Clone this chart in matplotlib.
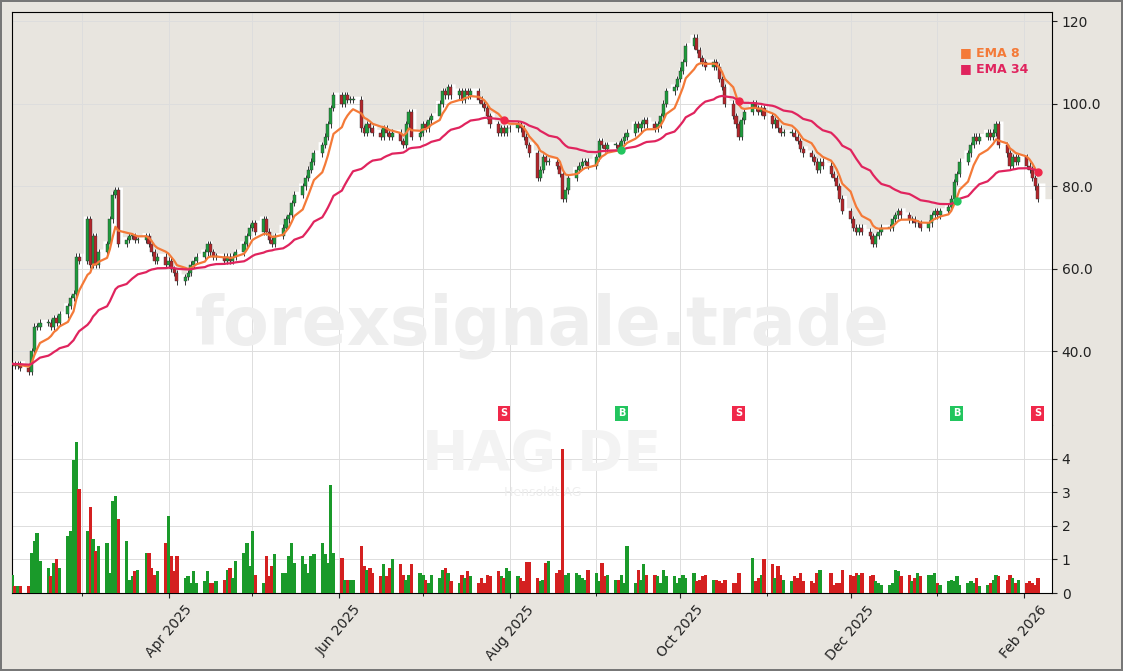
import numpy as np
import pandas as pd
import matplotlib
matplotlib.use("Agg")
import matplotlib.pyplot as plt
import matplotlib.dates as mdates

weekly_closes = [
    [37, 37, 36.5, 37, 36], [35, 40, 46, 46, 47], [47, 46, 48, 47, 49], [51, 53, 54, 63, 62],
    [72, 61, 68, 61, 64], [66, 72, 78, 79, 66], [67, 68, 68, 67, 67], [68, 66, 64, 62, 63],
    [61, 62, 60, 59, 57], [58, 59, 61, 62, 63], [64, 66, 64, 63, 63], [62, 63, 62, 63, 64],
    [66, 68, 70, 71, 69], [72, 69, 67, 66, 68], [70, 72, 73, 76, 78], [80, 82, 84, 86, 88],
    [90, 92, 95, 99, 102], [100, 102, 101, 101, 101], [94, 93, 95, 94, 93], [92, 94, 93, 92, 93],
    [91, 90, 95, 98, 92], [93, 95, 94, 96, 97], [100, 103, 102, 104, 102], [103, 101, 103, 102, 103],
    [101, 100, 99, 97, 95], [93, 94, 93, 94, 94], [95, 94, 92, 90, 88], [82, 84, 87, 86, 86],
    [85, 83, 77, 79, 82], [84, 85, 86, 86, 85], [87, 91, 90, 89, 90], [90, 89, 91, 92, 93],
    [95, 94, 95, 96, 95], [94, 95, 97, 100, 103], [104, 106, 108, 110, 114], [116, 113, 111, 110, 109],
    [110, 109, 106, 104, 100], [97, 95, 92, 96, 98], [100, 99, 98, 99, 97], [95, 96, 94, 93, 93],
    [93, 92, 91, 89, 88], [87, 86, 84, 86, 85], [83, 82, 80, 77, 74], [72, 70, 69, 70, 69],
    [68, 66, 68, 69, 70], [70, 72, 73, 74, 73], [72, 72, 71, 71, 70], [71, 73, 74, 73, 74],
    [75, 77, 81, 83, 86], [88, 90, 92, 91, 92], [93, 92, 93, 95, 90], [88, 85, 87, 86, 87],
    [85, 84, 82, 80, 77],
]
weekly_volumes = [
    [0.6, 0.55, 0.2, 0.2, 0.2], [0.2, 1.2, 1.55, 1.78, 0.95], [0.75, 0.5, 0.9, 1.0, 0.75],
    [1.7, 1.85, 3.95, 4.5, 3.1], [1.85, 2.55, 1.6, 1.25, 1.4], [1.5, 0.6, 2.75, 2.9, 2.2],
    [1.55, 0.4, 0.5, 0.65, 0.7], [1.2, 1.2, 0.75, 0.55, 0.65], [1.5, 2.3, 1.1, 0.65, 1.1],
    [0.45, 0.5, 0.3, 0.65, 0.3], [0.35, 0.65, 0.3, 0.3, 0.35], [0.4, 0.7, 0.75, 0.45, 0.95],
    [1.2, 1.5, 0.8, 1.85, 0.55], [0.3, 1.1, 0.5, 0.8, 1.15], [0.6, 0.6, 1.1, 1.5, 0.9],
    [1.1, 0.85, 0.6, 1.1, 1.15], [1.5, 1.15, 0.9, 3.2, 1.2], [1.05, 0.4, 0.4, 0.4, 0.4],
    [1.4, 0.8, 0.7, 0.75, 0.6], [0.5, 0.85, 0.5, 0.75, 1.0], [0.85, 0.55, 0.4, 0.55, 0.85],
    [0.6, 0.55, 0.4, 0.3, 0.55], [0.45, 0.7, 0.75, 0.6, 0.35], [0.3, 0.55, 0.45, 0.65, 0.5],
    [0.3, 0.45, 0.3, 0.55, 0.5], [0.65, 0.5, 0.45, 0.75, 0.65], [0.5, 0.45, 0.35, 0.92, 0.92],
    [0.45, 0.35, 0.4, 0.9, 0.95], [0.6, 0.7, 4.3, 0.55, 0.6], [0.6, 0.55, 0.45, 0.4, 0.7],
    [0.6, 0.35, 0.9, 0.5, 0.55], [0.4, 0.4, 0.55, 0.3, 1.4], [0.3, 0.7, 0.4, 0.85, 0.55],
    [0.55, 0.5, 0.3, 0.7, 0.5], [0.5, 0.3, 0.45, 0.55, 0.45], [0.6, 0.35, 0.4, 0.5, 0.55],
    [0.4, 0.4, 0.35, 0.3, 0.4], [0.3, 0.3, 0.6, 0.0, 0.0], [1.05, 0.35, 0.45, 0.55, 1.0],
    [0.85, 0.45, 0.8, 0.55, 0.4], [0.35, 0.5, 0.45, 0.6, 0.35], [0.35, 0.3, 0.6, 0.7, 0.0],
    [0.6, 0.25, 0.3, 0.3, 0.7], [0.55, 0.5, 0.6, 0.55, 0.6], [0.5, 0.55, 0.35, 0.3, 0.25],
    [0.25, 0.3, 0.7, 0.65, 0.5], [0.55, 0.35, 0.45, 0.6, 0.5], [0.55, 0.55, 0.6, 0.3, 0.25],
    [0.35, 0.4, 0.35, 0.5, 0.25], [0.3, 0.35, 0.3, 0.45, 0.2], [0.25, 0.3, 0.4, 0.55, 0.5],
    [0.4, 0.55, 0.45, 0.3, 0.4], [0.3, 0.35, 0.3, 0.25, 0.45],
]
price_ticks = [40, 60, 80, 100, 120]
price_tick_labels = ["40.0", "60.0", "80.0", "100.0", "120"]
vol_ticks = [0, 1, 2, 3, 4]

close = np.array([c for w in weekly_closes for c in w], dtype=float)
volume = np.array([v for w in weekly_volumes for v in w], dtype=float)
dates = pd.bdate_range("2025-02-03", periods=len(close))
x = mdates.date2num(dates.to_pydatetime())
opn = np.concatenate([[close[0]], close[:-1]])
high = np.maximum(opn, close) + 0.8
low = np.minimum(opn, close) - 0.8

ema8 = pd.Series(close).ewm(span=8, adjust=False).mean().values
ema34 = pd.Series(close).ewm(span=34, adjust=False).mean().values

BG = "#e8e5df"
UP = "#1e9b3c"
DN = "#b3262b"
C8 = "#f47a38"
C34 = "#e0245e"

fig = plt.figure(figsize=(11.23, 6.71), dpi=100, facecolor=BG)
fig.patch.set_edgecolor("#777777")
fig.patch.set_linewidth(1.5)
ax = fig.add_axes([0.0107, 0.3666, 0.926, 0.6155])
axv = fig.add_axes([0.0107, 0.1162, 0.926, 0.2504], sharex=ax)
for a in (ax, axv):
    a.set_facecolor("white")
    a.grid(True, color="#dddddd", lw=0.7)
    a.set_axisbelow(True)
    a.yaxis.tick_right()
    for s in a.spines.values():
        s.set_visible(False)
ax.spines["right"].set_visible(True)
axv.spines["right"].set_visible(True)
ax.spines["top"].set_visible(True)
ax.spines["left"].set_visible(True)
axv.spines["left"].set_visible(True)
axv.spines["bottom"].set_visible(True)

xmin = mdates.date2num(pd.Timestamp("2025-02-04"))
xmax = mdates.date2num(pd.Timestamp("2026-02-11"))
fx = np.concatenate([[xmin], x, [xmax]])
fh = np.concatenate([[high[0]], high, [close[-1]]])
ax.fill_between(fx, fh, 130, step="mid", color=BG, lw=0, zorder=0.5)

col = np.where(close >= opn, UP, DN)
ax.vlines(x, low, high, color="#333333", lw=0.7, zorder=2)
ax.bar(x, np.maximum(np.abs(close - opn), 0.15), bottom=np.minimum(opn, close), width=1.1,
       color=col, edgecolor="#333333", lw=0.3, zorder=3)
ax.plot(x, ema8, color=C8, lw=1.6, zorder=4)
ax.plot(x, ema34, color=C34, lw=1.6, zorder=4)

diff = ema8 - ema34
for i in range(20, len(diff)):
    if diff[i - 1] > 0 >= diff[i] or diff[i - 1] < 0 <= diff[i]:
        buy = diff[i] >= 0
        c = "#22c55e" if buy else "#f0284a"
        ax.plot(x[i], ema34[i], "o", color=c, ms=5, zorder=5)
        ax.text(x[i], 25, "B" if buy else "S", color="white", fontsize=7, fontweight="bold",
                ha="center", va="center", zorder=6,
                bbox=dict(boxstyle="square,pad=0.3", fc=c, ec="none"))

ax.set_ylim(22.2, 122.2)
ax.set_yticks(price_ticks)
ax.set_yticklabels(price_tick_labels)
ax.set_xlim(xmin, xmax)
ax.tick_params(axis="x", labelbottom=False, length=0)
ax.tick_params(axis="y", labelsize=10, colors="#222222")
ax.text(0.51, 0.24, "forexsignale.trade", transform=ax.transAxes, fontsize=48, fontweight="bold",
        color="#eeeeee", ha="center", va="center", zorder=1)
ax.text(0.912, 0.903, "■ EMA 8", transform=ax.transAxes, color=C8, fontsize=9, fontweight="bold", va="center")
ax.text(0.912, 0.862, "■ EMA 34", transform=ax.transAxes, color=C34, fontsize=9, fontweight="bold", va="center")

vcol = np.where(close >= opn, "#1a9a2a", "#d42020")
axv.bar(x, volume, width=1.2, color=vcol, zorder=3)
axv.set_ylim(0, 5.0)
axv.set_yticks(vol_ticks)
axv.tick_params(axis="y", labelsize=10, colors="#222222")
axv.text(0.51, 0.82, "HAG.DE", transform=axv.transAxes, fontsize=40, fontweight="bold",
         color="#f3f3f3", ha="center", va="center", zorder=1)
axv.text(0.51, 0.6, "Hensoldt AG", transform=axv.transAxes, fontsize=9,
         color="#eeeeee", ha="center", va="center", zorder=1)

axv.xaxis.set_major_locator(mdates.MonthLocator(bymonth=[2, 4, 6, 8, 10, 12]))
axv.xaxis.set_minor_locator(mdates.MonthLocator())
axv.xaxis.set_major_formatter(mdates.DateFormatter("%b %Y"))
axv.grid(True, which="minor", axis="x", color="#dddddd", lw=0.7)
ax.xaxis.set_minor_locator(mdates.MonthLocator())
ax.grid(True, which="minor", axis="x", color="#dddddd", lw=0.7)
axv.tick_params(axis="x", labelsize=10, colors="#222222")
plt.setp(axv.get_xticklabels(), rotation=50, ha="center")
fig.savefig("out.png", dpi=100, facecolor=BG, edgecolor="#777777")
